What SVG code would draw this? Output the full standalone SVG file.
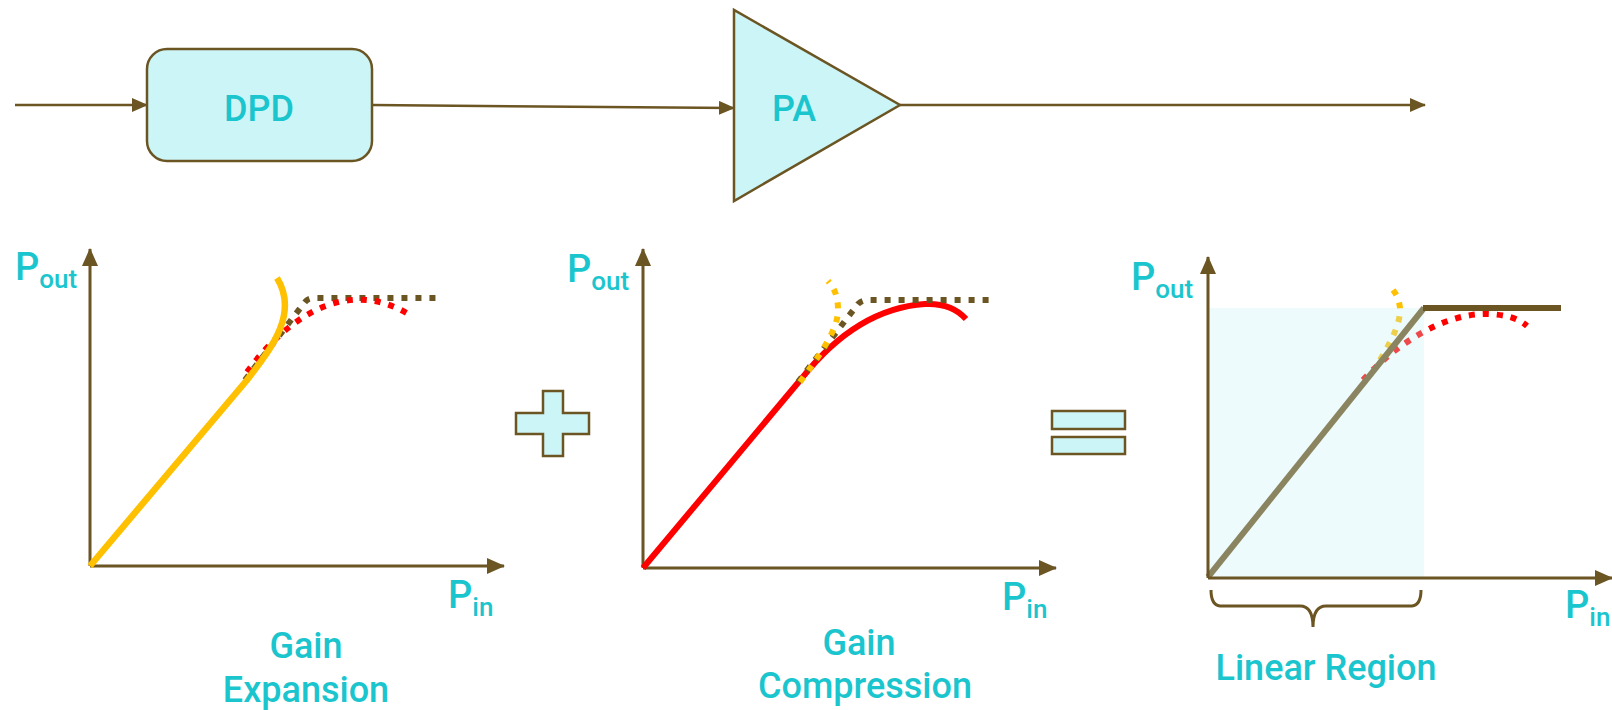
<svg xmlns="http://www.w3.org/2000/svg" width="1612" height="710" viewBox="0 0 1612 710">
<style>
.lbl{font-family:Roboto,"Liberation Sans",sans-serif;fill:#1BC5CE;font-weight:500}
.blk{font-family:Roboto,"Liberation Sans",sans-serif;fill:#1BC5CE;font-size:36px;font-weight:500}
.conn{stroke:#6B5523;stroke-width:2.5;fill:none}
.axis{stroke:#6B5523;stroke-width:3;fill:none}
.shape{fill:#CCF5F8;stroke:#6B5523;stroke-width:2.5}
.dot{fill:none;stroke-width:6;stroke-dasharray:6 8}
.sub{font-size:26px}
.big{font-size:38px}
.cap{font-size:36px}
</style>
<defs>
<marker id="ah" markerUnits="userSpaceOnUse" markerWidth="16" markerHeight="14" refX="15" refY="7" orient="auto"><path d="M0,0 L16,7 L0,14 Z" fill="#6B5523"/></marker>
<marker id="axh" markerUnits="userSpaceOnUse" markerWidth="18" markerHeight="16" refX="17" refY="8" orient="auto"><path d="M0,0 L18,8 L0,16 Z" fill="#6B5523"/></marker>
</defs>

<g id="connectors">
<line class="conn" x1="15" y1="105" x2="147" y2="105" marker-end="url(#ah)"/>
<line class="conn" x1="372" y1="105" x2="734" y2="108" marker-end="url(#ah)"/>
<line class="conn" x1="900" y1="105" x2="1425" y2="105" marker-end="url(#ah)"/>
</g>

<g id="dpd">
<rect class="shape" x="147" y="49" width="225" height="112" rx="20"/>
<text class="blk" x="259" y="121" text-anchor="middle">DPD</text>
</g>

<g id="pa">
<polygon class="shape" points="734,10 734,201 900,105"/>
<text class="blk" x="794" y="121" text-anchor="middle">PA</text>
</g>

<g id="chart1">
<line class="axis" x1="90" y1="566" x2="90" y2="249" marker-end="url(#axh)"/>
<line class="axis" x1="90" y1="566" x2="504" y2="566" marker-end="url(#axh)"/>
<path d="M245,380 L305,302 Q308,298 314,298 L440,298" class="dot" stroke="#6B5523"/>
<path d="M247,372 C285,320 345,275 410,315" class="dot" stroke="#FF0000"/>
<path d="M90,566 L247,380 C268,352 300,315 277,278" fill="none" stroke="#FFC000" stroke-width="6.5"/>
<text class="lbl big" x="15" y="280">P<tspan class="sub" dy="8">out</tspan></text>
<text class="lbl big" x="448" y="608">P<tspan class="sub" dy="8">in</tspan></text>
<text class="lbl cap" x="306" y="658" text-anchor="middle">Gain</text>
<text class="lbl cap" x="306" y="702" text-anchor="middle">Expansion</text>
</g>

<g id="plus">
<polygon class="shape" points="543,391 563,391 563,413 589,413 589,434 563,434 563,456 543,456 543,434 516,434 516,413 543,413"/>
</g>

<g id="chart2">
<line class="axis" x1="643" y1="568" x2="643" y2="249" marker-end="url(#axh)"/>
<line class="axis" x1="643" y1="568" x2="1056" y2="568" marker-end="url(#axh)"/>
<path d="M643,568 L802,378 C840,330 880,307 925,304 C945,303 958,310 966,319" fill="none" stroke="#FF0000" stroke-width="6"/>
<path d="M798,382 L858,304 Q862,300 868,300 L992,300" class="dot" stroke="#6B5523"/>
<path d="M800,382 C820,355 838,330 838,310 C838,297 835,289 828,281" class="dot" stroke="#FFC000"/>
<text class="lbl big" x="567" y="282">P<tspan class="sub" dy="8">out</tspan></text>
<text class="lbl big" x="1002" y="610">P<tspan class="sub" dy="8">in</tspan></text>
<text class="lbl cap" x="859" y="655" text-anchor="middle">Gain</text>
<text class="lbl cap" x="865" y="698" text-anchor="middle">Compression</text>
</g>

<g id="equals">
<rect class="shape" x="1052" y="411" width="73" height="18"/>
<rect class="shape" x="1052" y="437" width="73" height="17"/>
</g>

<g id="chart3">
<path d="M1363,380 C1400,340 1445,315 1483,314 C1505,314 1518,318 1527,326" class="dot" stroke="#FF0000"/>
<path d="M1380,360 C1392,340 1401,322 1400,308 C1399,300 1397,295 1393,290" class="dot" stroke="#FFC000"/>
<rect x="1208" y="308" width="216" height="269" fill="#C6F2F5" fill-opacity="0.3"/>
<line x1="1208" y1="577" x2="1424" y2="308" stroke="#8A8560" stroke-width="6"/>
<line x1="1423" y1="308" x2="1561" y2="308" stroke="#6B5523" stroke-width="6"/>
<line class="axis" x1="1208" y1="578" x2="1208" y2="257" marker-end="url(#axh)"/>
<line class="axis" x1="1208" y1="578" x2="1612" y2="578" marker-end="url(#axh)"/>
<path d="M1211,590 Q1211,605 1220,606 L1300,606 Q1313,606 1313,627 Q1313,606 1326,606 L1412,606 Q1421,605 1421,590" fill="none" stroke="#6B5523" stroke-width="3"/>
<text class="lbl big" x="1131" y="290">P<tspan class="sub" dy="8">out</tspan></text>
<text class="lbl big" x="1565" y="618">P<tspan class="sub" dy="8">in</tspan></text>
<text class="lbl cap" x="1326" y="680" text-anchor="middle">Linear Region</text>
</g>
</svg>
